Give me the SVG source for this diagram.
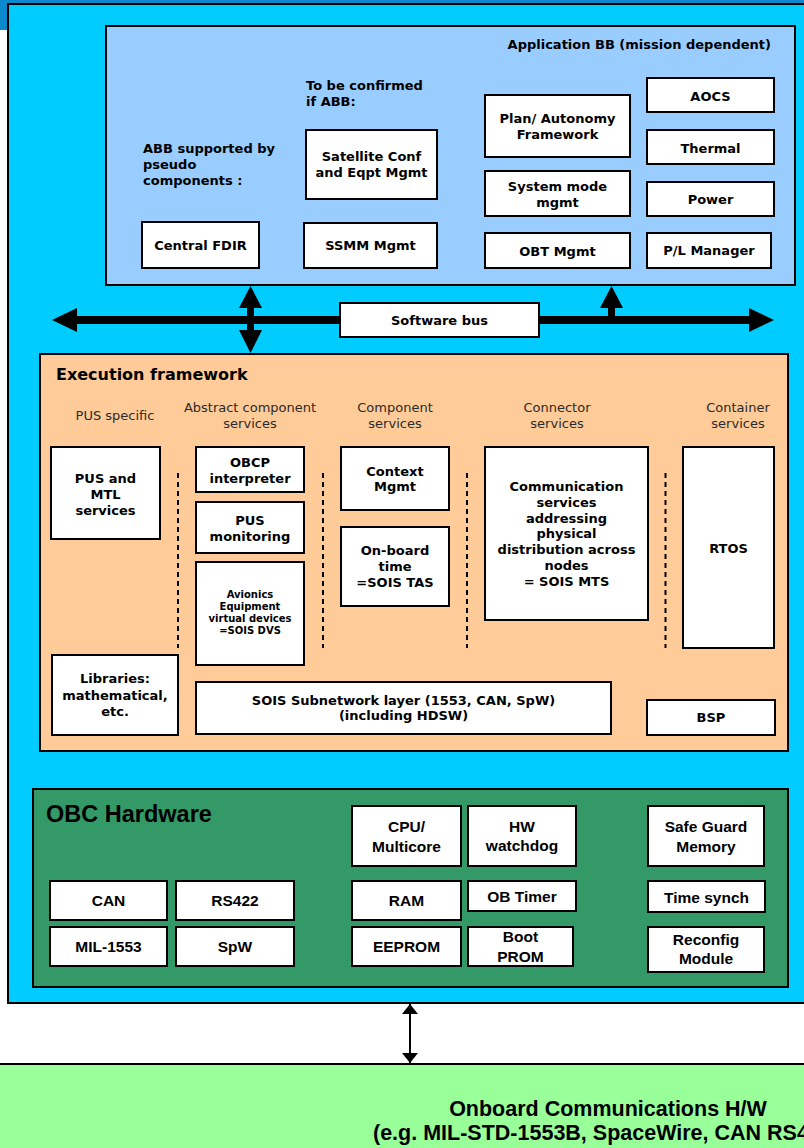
<svg xmlns="http://www.w3.org/2000/svg" width="804" height="1148" viewBox="0 0 804 1148">
  <style>
    .box { fill: #ffffff; stroke: #000000; stroke-width: 2; }
    .lbl { font-family: "DejaVu Sans", Verdana, sans-serif; font-weight: bold; font-size: 13px; fill: #000; text-anchor: middle; }
    .lblL { font-family: "DejaVu Sans", Verdana, sans-serif; font-weight: bold; font-size: 13px; fill: #000; }
    .small { font-family: "DejaVu Sans", Verdana, sans-serif; font-weight: bold; font-size: 10px; fill: #000; text-anchor: middle; }
    .head { font-family: "DejaVu Sans", Verdana, sans-serif; font-size: 13px; fill: #2a2a2a; text-anchor: middle; }
    .hw { font-family: "Liberation Sans", Arial, sans-serif; font-weight: bold; font-size: 15.5px; fill: #000; text-anchor: middle; }
    .sep { stroke: #000; stroke-width: 2; stroke-dasharray: 5 4; fill: none; }
  </style>
  <defs>
    <marker id="thinHead" viewBox="0 0 10 16" refX="10" refY="8" markerWidth="10" markerHeight="16" markerUnits="userSpaceOnUse" orient="auto-start-reverse">
      <path d="M0,0 L10,8 L0,16 Z" fill="#000"/>
    </marker>
  </defs>

  <!-- backdrop -->
  <rect x="0" y="0" width="804" height="1148" fill="#ffffff"/>
  <rect x="0" y="0" width="804" height="30" fill="#0a8acc"/>

  <!-- on-board computer outline -->
  <g id="obc">
    <rect x="8" y="4" width="810" height="999" fill="#00ccff" stroke="#000" stroke-width="2"/>
  </g>

  <!-- application building blocks -->
  <g id="application-bb">
    <rect x="106" y="26" width="689" height="259" fill="#99ccff" stroke="#000" stroke-width="2"/>
    <text class="lblL" x="771" y="49" text-anchor="end">Application BB (mission dependent)</text>
    <text class="lblL" x="306" y="90">To be confirmed</text>
    <text class="lblL" x="306" y="106">if ABB:</text>
    <text class="lblL" x="143" y="153">ABB supported by</text>
    <text class="lblL" x="143" y="169">pseudo</text>
    <text class="lblL" x="143" y="185">components :</text>
  </g>
  <g id="sat-conf"><rect class="box" x="306" y="130" width="131" height="69"/>
    <text class="lbl" x="371.5" y="161">Satellite Conf</text><text class="lbl" x="371.5" y="177">and Eqpt Mgmt</text></g>
  <g id="central-fdir"><rect class="box" x="142" y="222" width="117" height="46"/>
    <text class="lbl" x="200.5" y="249.5">Central FDIR</text></g>
  <g id="ssmm-mgmt"><rect class="box" x="304" y="223" width="133" height="45"/>
    <text class="lbl" x="370.5" y="250">SSMM Mgmt</text></g>
  <g id="plan-autonomy"><rect class="box" x="485" y="95" width="145" height="62"/>
    <text class="lbl" x="557.5" y="123">Plan/ Autonomy</text><text class="lbl" x="557.5" y="139">Framework</text></g>
  <g id="system-mode"><rect class="box" x="485" y="171" width="145" height="45"/>
    <text class="lbl" x="557.5" y="191">System mode</text><text class="lbl" x="557.5" y="207">mgmt</text></g>
  <g id="obt-mgmt"><rect class="box" x="485" y="233" width="145" height="35"/>
    <text class="lbl" x="557.5" y="256">OBT Mgmt</text></g>
  <g id="aocs"><rect class="box" x="647" y="78" width="127" height="34"/>
    <text class="lbl" x="710.5" y="101">AOCS</text></g>
  <g id="thermal"><rect class="box" x="647" y="130" width="127" height="34"/>
    <text class="lbl" x="710.5" y="153">Thermal</text></g>
  <g id="power"><rect class="box" x="647" y="182" width="127" height="34"/>
    <text class="lbl" x="710.5" y="204">Power</text></g>
  <g id="pl-manager"><rect class="box" x="647" y="233" width="124" height="35"/>
    <text class="lbl" x="709" y="255">P/L Manager</text></g>

  <!-- software bus and links -->
  <g id="connectors">
    <rect x="74" y="316" width="678" height="8" fill="#000"/>
    <path d="M52,320 L77,308 L77,332 Z" fill="#000"/>
    <path d="M774,320 L749,308 L749,332 Z" fill="#000"/>
    <rect x="247" y="306" width="7" height="26" fill="#000"/>
    <path d="M250.5,286 L239,308 L262,308 Z" fill="#000"/>
    <path d="M250.5,353 L239,330 L262,330 Z" fill="#000"/>
    <rect x="608" y="306" width="7" height="12" fill="#000"/>
    <path d="M611.5,286 L600,308 L623,308 Z" fill="#000"/>
    <line x1="410" y1="1004" x2="410" y2="1063" stroke="#000" stroke-width="2" marker-start="url(#thinHead)" marker-end="url(#thinHead)"/>
  </g>
  <g id="software-bus"><rect class="box" x="340" y="303" width="199" height="34"/>
    <text class="lbl" x="439.5" y="325">Software bus</text></g>

  <!-- execution framework -->
  <g id="execution-framework">
    <rect x="40" y="354" width="748" height="397" fill="#ffcc99" stroke="#000" stroke-width="2"/>
    <text class="lblL" x="56" y="380" style="font-size:16px">Execution framework</text>
    <text class="head" x="115" y="420">PUS specific</text>
    <text class="head" x="250" y="412">Abstract component</text><text class="head" x="250" y="428">services</text>
    <text class="head" x="395" y="412">Component</text><text class="head" x="395" y="428">services</text>
    <text class="head" x="557" y="412">Connector</text><text class="head" x="557" y="428">services</text>
    <text class="head" x="738" y="412">Container</text><text class="head" x="738" y="428">services</text>
    <line class="sep" x1="178" y1="473" x2="178" y2="648"/>
    <line class="sep" x1="323" y1="473" x2="323" y2="648"/>
    <line class="sep" x1="467" y1="473" x2="467" y2="648"/>
    <line class="sep" x1="665.5" y1="473" x2="665.5" y2="648"/>
  </g>
  <g id="pus-mtl"><rect class="box" x="51" y="447" width="109" height="92"/>
    <text class="lbl" x="105.5" y="483">PUS and</text><text class="lbl" x="105.5" y="499">MTL</text><text class="lbl" x="105.5" y="515">services</text></g>
  <g id="obcp"><rect class="box" x="196" y="447" width="108" height="45"/>
    <text class="lbl" x="250" y="467">OBCP</text><text class="lbl" x="250" y="483">interpreter</text></g>
  <g id="pus-monitoring"><rect class="box" x="196" y="502" width="108" height="51"/>
    <text class="lbl" x="250" y="525">PUS</text><text class="lbl" x="250" y="541">monitoring</text></g>
  <g id="avionics-dvs"><rect class="box" x="196" y="562" width="108" height="103"/>
    <text class="small" x="250" y="598">Avionics</text><text class="small" x="250" y="610">Equipment</text>
    <text class="small" x="250" y="622">virtual devices</text><text class="small" x="250" y="634">=SOIS DVS</text></g>
  <g id="libraries"><rect class="box" x="52" y="655" width="126" height="80"/>
    <text class="lbl" x="115" y="683">Libraries:</text><text class="lbl" x="115" y="700">mathematical,</text><text class="lbl" x="115" y="716">etc.</text></g>
  <g id="sois-subnetwork"><rect class="box" x="196" y="682" width="415" height="52"/>
    <text class="lbl" x="403.5" y="705">SOIS Subnetwork layer (1553, CAN, SpW)</text><text class="lbl" x="403.5" y="720">(including HDSW)</text></g>
  <g id="context-mgmt"><rect class="box" x="341" y="447" width="108" height="63"/>
    <text class="lbl" x="395" y="476">Context</text><text class="lbl" x="395" y="491">Mgmt</text></g>
  <g id="onboard-time"><rect class="box" x="341" y="527" width="108" height="79"/>
    <text class="lbl" x="395" y="555">On-board</text><text class="lbl" x="395" y="571">time</text><text class="lbl" x="395" y="587">=SOIS TAS</text></g>
  <g id="communication"><rect class="box" x="485" y="447" width="163" height="173"/>
    <text class="lbl" x="566.5" y="491">Communication</text><text class="lbl" x="566.5" y="507">services</text>
    <text class="lbl" x="566.5" y="523">addressing</text><text class="lbl" x="566.5" y="538">physical</text>
    <text class="lbl" x="566.5" y="554">distribution across</text><text class="lbl" x="566.5" y="570">nodes</text>
    <text class="lbl" x="566.5" y="586">= SOIS MTS</text></g>
  <g id="rtos"><rect class="box" x="683" y="447" width="91" height="201"/>
    <text class="lbl" x="728.5" y="553">RTOS</text></g>
  <g id="bsp"><rect class="box" x="647" y="700" width="128" height="35"/>
    <text class="lbl" x="711" y="722">BSP</text></g>

  <!-- OBC hardware -->
  <g id="obc-hardware">
    <rect x="33" y="789" width="755" height="198" fill="#339966" stroke="#000" stroke-width="2"/>
    <text x="46" y="822" font-family="'Liberation Sans', Arial, sans-serif" font-weight="bold" font-size="23.5px" fill="#000">OBC Hardware</text>
  </g>
  <g id="can"><rect class="box" x="50" y="881" width="117" height="39"/><text class="hw" x="108.5" y="906">CAN</text></g>
  <g id="rs422"><rect class="box" x="176" y="881" width="118" height="39"/><text class="hw" x="235" y="906">RS422</text></g>
  <g id="mil1553"><rect class="box" x="50" y="927" width="117" height="39"/><text class="hw" x="108.5" y="952">MIL-1553</text></g>
  <g id="spw"><rect class="box" x="176" y="927" width="118" height="39"/><text class="hw" x="235" y="952">SpW</text></g>
  <g id="cpu"><rect class="box" x="352" y="806" width="109" height="60"/>
    <text class="hw" x="406.5" y="832">CPU/</text><text class="hw" x="406.5" y="852">Multicore</text></g>
  <g id="ram"><rect class="box" x="352" y="881" width="109" height="39"/><text class="hw" x="406.5" y="906">RAM</text></g>
  <g id="eeprom"><rect class="box" x="352" y="927" width="109" height="39"/><text class="hw" x="406.5" y="952">EEPROM</text></g>
  <g id="hw-watchdog"><rect class="box" x="468" y="806" width="108" height="60"/>
    <text class="hw" x="522" y="832">HW</text><text class="hw" x="522" y="851">watchdog</text></g>
  <g id="ob-timer"><rect class="box" x="468" y="881" width="108" height="30"/><text class="hw" x="522" y="902">OB Timer</text></g>
  <g id="boot-prom"><rect class="box" x="468" y="927" width="105" height="39"/>
    <text class="hw" x="520.5" y="942">Boot</text><text class="hw" x="520.5" y="962">PROM</text></g>
  <g id="safe-guard"><rect class="box" x="648" y="806" width="116" height="60"/>
    <text class="hw" x="706" y="832">Safe Guard</text><text class="hw" x="706" y="852">Memory</text></g>
  <g id="time-synch"><rect class="box" x="648" y="881" width="117" height="31"/><text class="hw" x="706.5" y="903">Time synch</text></g>
  <g id="reconfig"><rect class="box" x="648" y="927" width="116" height="45"/>
    <text class="hw" x="706" y="945">Reconfig</text><text class="hw" x="706" y="964">Module</text></g>

  <!-- onboard communications hardware -->
  <g id="onboard-comms">
    <rect x="-2" y="1064" width="810" height="90" fill="#99ff99" stroke="#000" stroke-width="2"/>
    <text x="608" y="1116" text-anchor="middle" font-family="'Liberation Sans', Arial, sans-serif" font-weight="bold" font-size="21.5px" fill="#000">Onboard Communications H/W</text>
    <text x="373" y="1140" font-family="'Liberation Sans', Arial, sans-serif" font-weight="bold" font-size="21.5px" fill="#000">(e.g. MIL-STD-1553B, SpaceWire, CAN RS4</text>
  </g>
</svg>
